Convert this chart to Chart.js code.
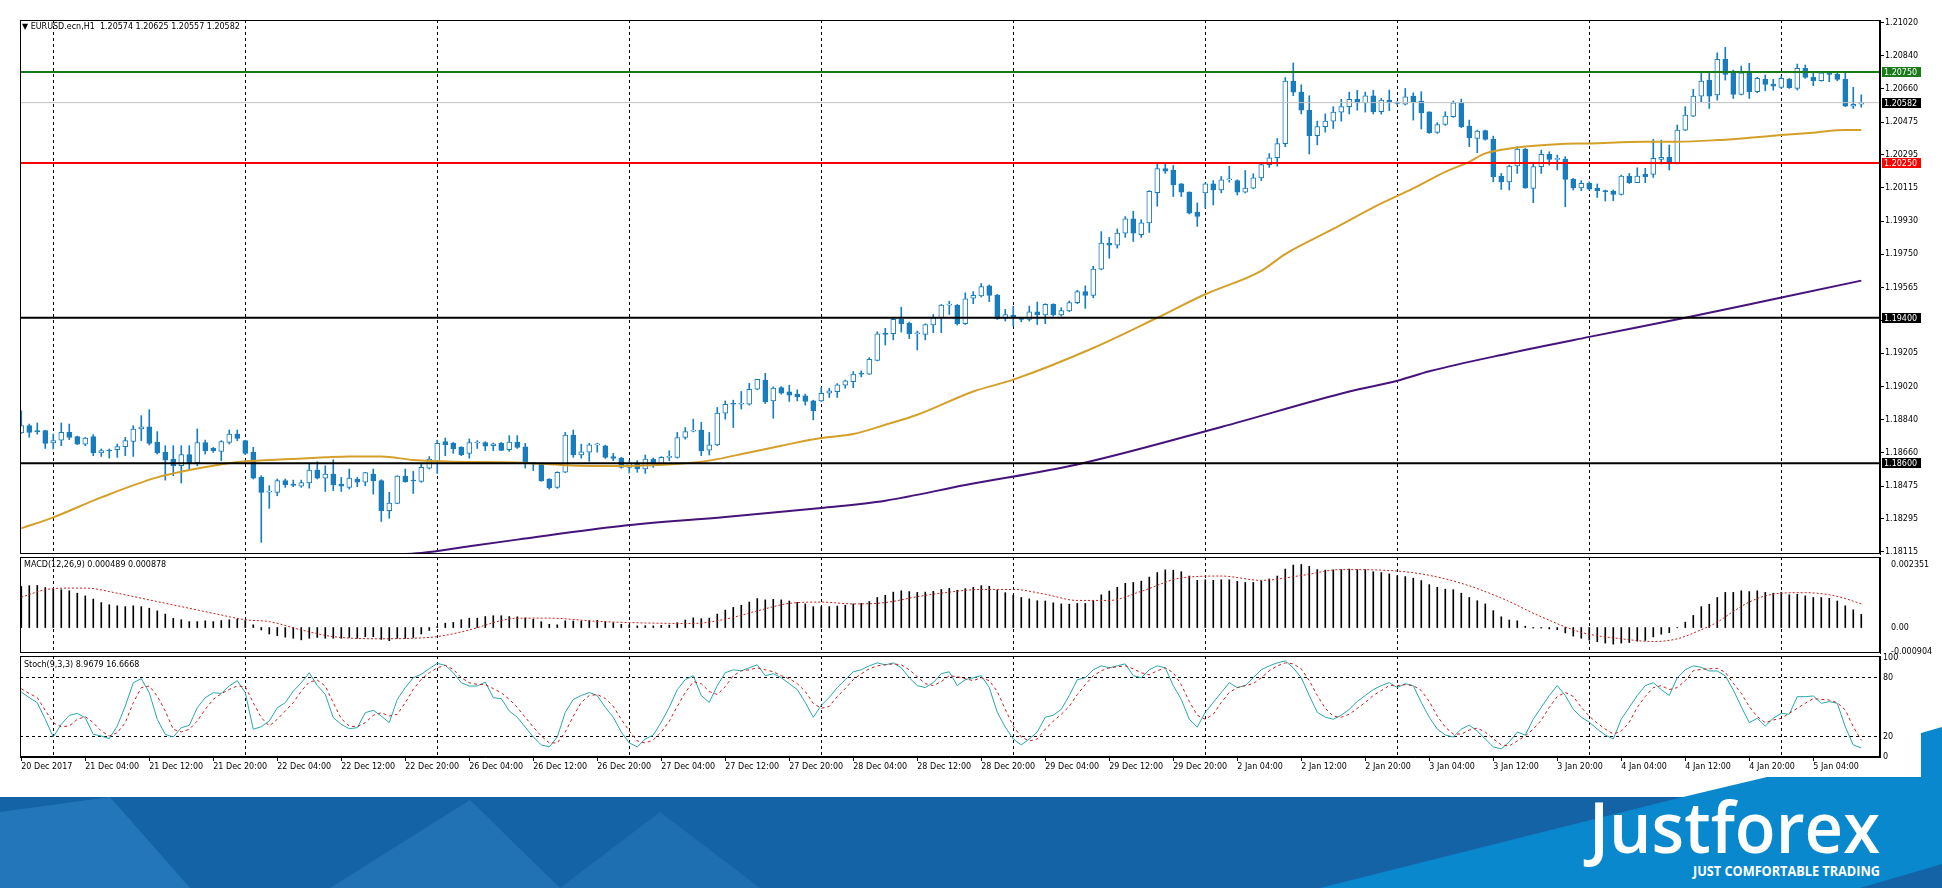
<!DOCTYPE html>
<html><head><meta charset="utf-8">
<script src="https://cdn.jsdelivr.net/npm/chart.js@4.4.1/dist/chart.umd.min.js"></script>
<style>
html,body{margin:0;padding:0;background:#fff;width:1942px;height:888px;overflow:hidden;}
canvas{position:absolute;left:0;top:0;}
#banner{position:absolute;left:0;top:0;}
.ttl{position:absolute;font-family:"DejaVu Sans";font-size:8px;color:#000;white-space:pre;line-height:10px;}
</style></head><body>
<svg id="banner" width="1942" height="888">
 <rect x="0" y="797" width="1942" height="91" fill="#0a88cd"/>
 <polygon points="0,797 1683,797 1320,888 0,888" fill="#1463a6"/>
 <polygon points="0,812 110,797 190,888 0,888" fill="#2f86c8" opacity="0.55"/>
 <polygon points="330,888 470,800 560,888" fill="#2f86c8" opacity="0.45"/>
 <polygon points="560,888 660,812 760,888" fill="#2f86c8" opacity="0.35"/>
 <polygon points="1683,797 1767,777 1921,777 1921,797" fill="#0a88cd"/>
 <polygon points="1921,733 1942,727 1942,797 1921,797" fill="#0a88cd"/>
 <polygon points="1860,888 1942,864 1942,888" fill="#1463a6"/>
 <text x="1589" y="853" font-family="Open Sans" font-weight="600" font-size="70" fill="#fff" textLength="291" lengthAdjust="spacingAndGlyphs">Justforex</text>
 <text x="1693" y="876" font-family="Open Sans" font-weight="700" font-size="15" fill="#fff" textLength="187" lengthAdjust="spacingAndGlyphs">JUST COMFORTABLE TRADING</text>
</svg>
<canvas id="cMain" width="1942" height="888"></canvas>
<canvas id="cMacd" width="1942" height="888"></canvas>
<canvas id="cStoch" width="1942" height="888"></canvas>
<div class="ttl" style="left:22px;top:22px;">▼ EURUSD.ecn,H1  1.20574 1.20625 1.20557 1.20582</div>
<div class="ttl" style="left:24px;top:560px;">MACD(12,26,9) 0.000489 0.000878</div>
<div class="ttl" style="left:24px;top:660px;">Stoch(9,3,3) 8.9679 16.6668</div>
<script>
// ---------- DATA ----------
const open = [1.18767,1.18807,1.18778,1.18780,1.18712,1.18728,1.18770,1.18747,1.18706,1.18747,
1.18657,1.18673,1.18675,1.18692,1.18721,1.18789,1.18801,1.18715,1.18660,1.18624,
1.18587,1.18648,1.18604,1.18714,1.18682,1.18666,1.18715,1.18761,1.18725,1.18660,
1.18523,1.18442,1.18441,1.18505,1.18486,1.18475,1.18492,1.18563,1.18519,1.18541,
1.18486,1.18468,1.18514,1.18496,1.18541,1.18505,1.18340,1.18380,1.18530,1.18505,
1.18501,1.18574,1.18611,1.18719,1.18710,1.18688,1.18655,1.18712,1.18714,1.18697,
1.18710,1.18675,1.18715,1.18691,1.18602,1.18600,1.18514,1.18468,1.18551,1.18755,
1.18647,1.18662,1.18702,1.18697,1.18637,1.18629,1.18578,1.18602,1.18569,1.18624,
1.18596,1.18633,1.18633,1.18742,1.18777,1.18783,1.18673,1.18702,1.18876,1.18929,
1.18925,1.18925,1.19007,1.19058,1.18943,1.19016,1.18993,1.18980,1.18971,1.18943,
1.18943,1.18985,1.18994,1.19029,1.19049,1.19093,1.19090,1.19166,1.19316,1.19312,
1.19391,1.19369,1.19312,1.19309,1.19360,1.19400,1.19469,1.19469,1.19367,1.19507,
1.19520,1.19575,1.19525,1.19396,1.19415,1.19393,1.19391,1.19433,1.19415,1.19474,
1.19415,1.19437,1.19483,1.19544,1.19523,1.19667,1.19810,1.19799,1.19865,1.19943,
1.19857,1.19921,1.20087,1.20219,1.20210,1.20136,1.20090,1.19980,1.20086,1.20136,
1.20103,1.20158,1.20154,1.20090,1.20112,1.20169,1.20241,1.20279,1.20357,1.20700,
1.20640,1.20540,1.20400,1.20450,1.20480,1.20530,1.20560,1.20600,1.20580,1.20620,
1.20532,1.20596,1.20583,1.20574,1.20618,1.20590,1.20532,1.20419,1.20462,1.20505,
1.20581,1.20453,1.20386,1.20428,1.20380,1.20179,1.20147,1.20234,1.20327,1.20111,
1.20230,1.20298,1.20270,1.20272,1.20160,1.20114,1.20138,1.20111,1.20098,1.20096,
1.20078,1.20179,1.20142,1.20188,1.20188,1.20270,1.20281,1.20248,1.20431,1.20508,
1.20618,1.20706,1.20624,1.20820,1.20748,1.20627,1.20748,1.20642,1.20710,1.20684,
1.20666,1.20710,1.20660,1.20770,1.20721,1.20702,1.20746,1.20739,1.20710,1.20563,
1.20574];
const high = [1.18889,1.18816,1.18822,1.18782,1.18761,1.18822,1.18816,1.18750,1.18743,1.18758,
1.18679,1.18679,1.18706,1.18743,1.18807,1.18862,1.18895,1.18774,1.18697,1.18697,
1.18697,1.18697,1.18789,1.18728,1.18688,1.18725,1.18783,1.18783,1.18727,1.18688,
1.18532,1.18477,1.18514,1.18514,1.18508,1.18508,1.18596,1.18609,1.18587,1.18620,
1.18523,1.18569,1.18523,1.18551,1.18569,1.18510,1.18441,1.18532,1.18569,1.18556,
1.18596,1.18637,1.18728,1.18739,1.18715,1.18692,1.18734,1.18725,1.18719,1.18712,
1.18715,1.18752,1.18752,1.18710,1.18605,1.18602,1.18516,1.18554,1.18770,1.18783,
1.18706,1.18710,1.18711,1.18700,1.18655,1.18633,1.18615,1.18615,1.18646,1.18629,
1.18637,1.18669,1.18770,1.18797,1.18843,1.18825,1.18770,1.18907,1.18943,1.18947,
1.18995,1.19040,1.19062,1.19095,1.19020,1.19022,1.19029,1.19004,1.18980,1.18947,
1.19016,1.19013,1.19038,1.19058,1.19104,1.19108,1.19181,1.19323,1.19342,1.19400,
1.19458,1.19376,1.19327,1.19367,1.19418,1.19473,1.19491,1.19473,1.19537,1.19544,
1.19588,1.19580,1.19529,1.19446,1.19464,1.19400,1.19464,1.19486,1.19477,1.19477,
1.19455,1.19492,1.19551,1.19575,1.19683,1.19873,1.19842,1.19888,1.19956,1.19985,
1.19939,1.20099,1.20250,1.20250,1.20237,1.20138,1.20092,1.20031,1.20141,1.20154,
1.20176,1.20232,1.20158,1.20209,1.20191,1.20250,1.20302,1.20385,1.20720,1.20800,
1.20680,1.20620,1.20480,1.20520,1.20560,1.20600,1.20640,1.20650,1.20640,1.20650,
1.20605,1.20651,1.20587,1.20660,1.20636,1.20642,1.20532,1.20472,1.20532,1.20591,
1.20602,1.20486,1.20431,1.20431,1.20398,1.20193,1.20239,1.20340,1.20331,1.20248,
1.20321,1.20312,1.20294,1.20285,1.20166,1.20153,1.20147,1.20135,1.20102,1.20102,
1.20184,1.20193,1.20224,1.20221,1.20380,1.20376,1.20349,1.20459,1.20560,1.20655,
1.20746,1.20746,1.20856,1.20886,1.20761,1.20783,1.20798,1.20721,1.20734,1.20710,
1.20728,1.20715,1.20794,1.20789,1.20743,1.20752,1.20752,1.20746,1.20746,1.20666,
1.20625];
const low = [1.18765,1.18743,1.18761,1.18682,1.18679,1.18697,1.18730,1.18703,1.18697,1.18642,
1.18638,1.18629,1.18633,1.18642,1.18638,1.18725,1.18701,1.18651,1.18508,1.18532,
1.18492,1.18560,1.18587,1.18651,1.18660,1.18615,1.18706,1.18725,1.18648,1.18514,
1.18166,1.18353,1.18422,1.18468,1.18472,1.18468,1.18464,1.18514,1.18446,1.18450,
1.18446,1.18459,1.18472,1.18477,1.18431,1.18281,1.18298,1.18378,1.18496,1.18435,
1.18496,1.18569,1.18545,1.18642,1.18655,1.18642,1.18629,1.18682,1.18670,1.18670,
1.18670,1.18666,1.18682,1.18574,1.18560,1.18501,1.18459,1.18463,1.18549,1.18633,
1.18629,1.18611,1.18662,1.18627,1.18615,1.18574,1.18547,1.18551,1.18545,1.18578,
1.18591,1.18615,1.18629,1.18733,1.18773,1.18642,1.18646,1.18697,1.18843,1.18797,
1.18898,1.18920,1.19004,1.18929,1.18848,1.18980,1.18940,1.18943,1.18920,1.18839,
1.18940,1.18962,1.18962,1.19013,1.19016,1.19075,1.19088,1.19163,1.19250,1.19278,
1.19321,1.19285,1.19223,1.19278,1.19318,1.19318,1.19418,1.19360,1.19363,1.19477,
1.19514,1.19488,1.19391,1.19382,1.19354,1.19378,1.19382,1.19363,1.19367,1.19409,
1.19409,1.19433,1.19477,1.19452,1.19510,1.19663,1.19727,1.19783,1.19842,1.19819,
1.19842,1.19869,1.20013,1.20193,1.20066,1.20066,1.19970,1.19902,1.20003,1.20020,
1.20086,1.20145,1.20075,1.20086,1.20108,1.20154,1.20226,1.20233,1.20340,1.20620,
1.20520,1.20300,1.20350,1.20420,1.20440,1.20480,1.20520,1.20540,1.20530,1.20520,
1.20519,1.20538,1.20569,1.20569,1.20486,1.20437,1.20413,1.20413,1.20457,1.20501,
1.20444,1.20340,1.20307,1.20376,1.20147,1.20105,1.20102,1.20193,1.20111,1.20032,
1.20193,1.20239,1.20212,1.20010,1.20102,1.20098,1.20102,1.20061,1.20041,1.20043,
1.20074,1.20138,1.20142,1.20142,1.20171,1.20245,1.20212,1.20245,1.20428,1.20505,
1.20587,1.20550,1.20596,1.20706,1.20605,1.20624,1.20605,1.20636,1.20647,1.20651,
1.20660,1.20660,1.20651,1.20715,1.20675,1.20700,1.20697,1.20702,1.20560,1.20550,
1.20557];
const close = [1.18807,1.18770,1.18774,1.18710,1.18725,1.18770,1.18743,1.18706,1.18739,1.18657,
1.18670,1.18668,1.18692,1.18725,1.18789,1.18801,1.18710,1.18657,1.18618,1.18587,
1.18648,1.18600,1.18714,1.18670,1.18670,1.18719,1.18761,1.18737,1.18655,1.18518,
1.18441,1.18444,1.18505,1.18483,1.18479,1.18494,1.18563,1.18518,1.18541,1.18483,
1.18474,1.18519,1.18496,1.18549,1.18505,1.18340,1.18382,1.18530,1.18499,1.18503,
1.18578,1.18624,1.18710,1.18703,1.18679,1.18648,1.18714,1.18715,1.18695,1.18708,
1.18671,1.18717,1.18688,1.18600,1.18600,1.18505,1.18465,1.18551,1.18755,1.18647,
1.18664,1.18702,1.18704,1.18633,1.18627,1.18578,1.18600,1.18569,1.18624,1.18600,
1.18633,1.18636,1.18742,1.18775,1.18779,1.18669,1.18702,1.18876,1.18925,1.18925,
1.18927,1.19007,1.19062,1.18938,1.19013,1.18985,1.18974,1.18965,1.18940,1.18889,
1.18985,1.18998,1.19031,1.19053,1.19090,1.19090,1.19172,1.19312,1.19309,1.19391,
1.19367,1.19312,1.19314,1.19363,1.19400,1.19469,1.19471,1.19367,1.19504,1.19523,
1.19571,1.19523,1.19394,1.19418,1.19400,1.19391,1.19433,1.19415,1.19474,1.19415,
1.19440,1.19483,1.19544,1.19523,1.19667,1.19810,1.19799,1.19865,1.19943,1.19865,
1.19921,1.20094,1.20219,1.20206,1.20130,1.20090,1.19974,1.19957,1.20136,1.20103,
1.20158,1.20160,1.20090,1.20112,1.20169,1.20241,1.20279,1.20357,1.20700,1.20640,
1.20540,1.20400,1.20450,1.20480,1.20530,1.20560,1.20600,1.20580,1.20620,1.20532,
1.20596,1.20583,1.20578,1.20614,1.20587,1.20527,1.20417,1.20462,1.20508,1.20581,
1.20450,1.20389,1.20426,1.20380,1.20175,1.20147,1.20234,1.20327,1.20114,1.20230,
1.20298,1.20270,1.20272,1.20160,1.20114,1.20138,1.20107,1.20098,1.20093,1.20078,
1.20179,1.20142,1.20179,1.20175,1.20276,1.20281,1.20248,1.20431,1.20514,1.20618,
1.20701,1.20618,1.20820,1.20737,1.20627,1.20746,1.20642,1.20715,1.20682,1.20673,
1.20715,1.20664,1.20770,1.20721,1.20702,1.20746,1.20737,1.20710,1.20563,1.20572,
1.20582];

const maFastIdx = [0,4,10,17,24,28,33,38,41,45,49,54,62,68,75,83,86,91,95,100,104,108,112,119,124,134,142,148,155,158,164,170,174,178,181,183,187,192,196,203,207,212,216,220,224,228,230];
const maFastVal = [1.18243,1.18303,1.18413,1.18523,1.18587,1.18611,1.18622,1.18633,1.18638,1.18638,1.18618,1.18609,1.18605,1.18590,1.18585,1.18600,1.18615,1.18660,1.18697,1.18739,1.18761,1.18812,1.18867,1.18995,1.19060,1.19234,1.19400,1.19529,1.19658,1.19750,1.19888,1.20028,1.20111,1.20202,1.20257,1.20303,1.20336,1.20354,1.20358,1.20367,1.20367,1.20376,1.20389,1.20404,1.20417,1.20431,1.20431];
const maSlowIdx = [40,45,50,56,62,75,88,100,108,118,132,150,166,172,176,186,196,208,219,230];
const maSlowVal = [1.18080,1.18098,1.18108,1.18145,1.18181,1.18256,1.18305,1.18355,1.18395,1.18481,1.18594,1.18800,1.18995,1.19054,1.19106,1.19205,1.19295,1.19400,1.19502,1.19604];

const levelVals   = [1.20750, 1.20582, 1.20250, 1.19400, 1.18600];
const priceTicks  = [1.21020,1.20840,1.20660,1.20475,1.20295,1.20115,1.19930,1.19750,1.19565,1.19385,1.19205,1.19020,1.18840,1.18660,1.18475,1.18295,1.18115];

const macdHist = [0.00153,0.00156,0.00157,0.00149,0.00143,0.00141,0.00137,0.00128,0.00118,0.00106,
0.00093,0.00085,0.00081,0.00078,0.00081,0.00078,0.00072,0.00062,0.00050,0.00034,
0.00029,0.00022,0.00022,0.00025,0.00022,0.00026,0.00029,0.00031,0.00026,0.00010,
-0.00009,-0.00024,-0.00030,-0.00036,-0.00040,-0.00046,-0.00040,-0.00037,-0.00040,-0.00040,
-0.00040,-0.00037,-0.00040,-0.00034,-0.00034,-0.00044,-0.00049,-0.00040,-0.00040,-0.00037,
-0.00024,-0.00011,0.00004,0.00016,0.00019,0.00029,0.00035,0.00035,0.00041,0.00044,
0.00044,0.00041,0.00040,0.00036,0.00031,0.00022,0.00012,0.00010,0.00025,0.00024,
0.00024,0.00026,0.00027,0.00022,0.00018,0.00012,0.00010,0.00006,0.00007,0.00006,
0.00008,0.00009,0.00018,0.00028,0.00036,0.00033,0.00035,0.00050,0.00065,0.00075,
0.00083,0.00095,0.00108,0.00103,0.00105,0.00103,0.00099,0.00094,0.00088,0.00078,
0.00078,0.00078,0.00080,0.00083,0.00088,0.00090,0.00097,0.00112,0.00120,0.00132,
0.00137,0.00134,0.00131,0.00132,0.00135,0.00142,0.00146,0.00139,0.00145,0.00150,
0.00156,0.00154,0.00140,0.00130,0.00121,0.00112,0.00107,0.00100,0.00099,0.00092,
0.00088,0.00087,0.00090,0.00090,0.00100,0.00122,0.00136,0.00150,0.00165,0.00168,
0.00173,0.00188,0.00205,0.00215,0.00214,0.00208,0.00192,0.00176,0.00178,0.00176,
0.00178,0.00178,0.00172,0.00168,0.00168,0.00174,0.00181,0.00192,0.00218,0.00233,
0.00235,0.00228,0.00216,0.00214,0.00215,0.00216,0.00218,0.00216,0.00216,0.00208,
0.00205,0.00200,0.00193,0.00190,0.00184,0.00175,0.00160,0.00150,0.00143,0.00141,
0.00128,0.00112,0.00100,0.00088,0.00063,0.00040,0.00028,0.00025,0.00005,-0.00002,
-0.00002,-0.00005,-0.00008,-0.00020,-0.00032,-0.00040,-0.00047,-0.00053,-0.00058,-0.00062,
-0.00058,-0.00056,-0.00051,-0.00048,-0.00035,-0.00025,-0.00019,-0.00001,0.00020,0.00045,
0.00078,0.00087,0.00112,0.00131,0.00131,0.00137,0.00134,0.00137,0.00131,0.00128,
0.00131,0.00122,0.00124,0.00118,0.00112,0.00112,0.00109,0.00099,0.00081,0.00066,
0.00049];
const macdSigIdx = [0,3,6,8,12,16,20,24,28,31,35,39,45,49,52,56,60,62,66,72,78,84,88,92,96,100,104,108,112,116,120,124,128,132,136,140,145,150,155,160,165,170,175,180,185,190,195,200,204,207,210,212,214,216,218,220,223,226,228,230];
const macdSigVal = [0.00113,0.00141,0.00147,0.00147,0.00128,0.00103,0.00078,0.00053,0.00029,0.00022,
-0.00009,-0.00034,-0.00042,-0.00040,-0.00034,-0.00009,0.00026,0.00035,0.00035,0.00023,
0.00017,0.00015,0.00031,0.00062,0.00090,0.00095,0.00088,0.00093,0.00115,0.00132,
0.00142,0.00142,0.00124,0.00101,0.00101,0.00135,0.00185,0.00192,0.00176,0.00194,
0.00216,0.00214,0.00200,0.00165,0.00110,0.00040,-0.00018,-0.00042,-0.00052,-0.00042,
-0.00008,0.00020,0.00060,0.00095,0.00118,0.00128,0.00130,0.00122,0.00108,0.00088];
const macdTicks = [0.002351, 0, -0.000904];

const stochK = [65.5,59.8,54.7,37.9,20.0,32.8,41.9,43.9,39.5,22.7,21.0,18.3,31.1,51.3,74.9,79.0,64.8,37.9,22.7,20.0,
29.4,31.8,49.7,59.8,64.8,64.1,71.6,77.0,64.8,27.8,30.4,36.2,49.7,54.7,66.5,74.9,85.0,72.2,63.1,39.5,
32.8,28.4,29.4,44.6,47.0,41.2,34.5,58.1,69.9,80.0,83.4,89.1,94.5,92.5,85.0,74.9,71.6,71.6,75.6,59.8,
58.8,46.3,40,30,20,12,10,20,45,58,62,65,62,50,40,25,14,10,18,22,
35,50,68,78,82,62,55,72,85,88,87,90,93,82,84,80,74,68,55,40,
52,60,70,78,86,88,92,95,93,95,90,80,72,70,75,84,86,72,78,80,
82,70,45,30,18,12,18,25,40,42,48,62,78,80,88,92,90,92,94,82,
80,88,92,90,72,58,38,30,45,55,65,75,70,72,80,88,92,95,97,90,
80,62,45,40,38,42,48,56,62,68,72,75,70,74,72,55,40,28,22,20,
28,32,26,18,10,8,15,25,22,38,50,62,72,62,48,40,35,28,22,18,
38,50,62,72,75,68,62,80,88,92,90.5,86.8,86.8,82,67.6,50.7,34.5,38.9,31.1,38.9,
44.0,43.0,60.8,60.8,61.5,54.1,55.8,54.1,30.4,11.9,8.97];
const stochD = [68.9,64.0,59.8,47.0,34.5,30.4,31.1,37.9,40.6,34.5,26.0,21.0,24.4,34.5,54.7,69.9,71.6,61.4,46.3,27.8,
25.1,27.8,36.2,48.0,58.1,63.8,68.2,71.6,70.9,54.7,39.5,31.1,37.9,46.3,54.7,66.5,75.6,77.6,71.6,54.7,
38.5,31.1,30.4,34.5,41.9,44.6,41.2,42.9,54.7,68.2,78.3,85.0,90.1,92.5,88.4,80.0,74.9,73.2,73.2,68.9,
64.8,58.1,50,40,30,21,14,14,25,41,55,62,63,59,51,38,26,16,14,17,
25,36,51,65,76,74,66,63,71,82,87,88,90,88,86,82,79,74,66,54,
49,51,61,69,78,84,89,92,93,94,93,88,81,74,72,76,82,81,79,77,
80,77,66,48,31,20,16,18,28,36,43,51,63,73,82,87,90,91,92,89,
85,83,87,90,85,73,56,42,38,43,55,65,70,72,74,80,87,92,95,94,
89,77,62,49,41,40,43,49,55,62,67,72,72,73,72,67,56,41,30,23,
23,27,29,25,18,12,11,16,21,28,37,50,61,65,61,50,41,34,28,23,
26,35,50,61,70,72,68,70,77,87,88.5,89,89.5,85.5,74.4,64.2,50.7,40.6,34.5,37.2,
38.9,44.0,49.0,54.1,58.8,58.1,57.4,54.7,47.4,30.4,16.67];
const stochTicks = [100, 80, 20, 0];
const stochLevels = [80, 20];

const timeLabels = ["20 Dec 2017","21 Dec 04:00","21 Dec 12:00","21 Dec 20:00","22 Dec 04:00","22 Dec 12:00","22 Dec 20:00","26 Dec 04:00","26 Dec 12:00","26 Dec 20:00","27 Dec 04:00","27 Dec 12:00","27 Dec 20:00","28 Dec 04:00","28 Dec 12:00","28 Dec 20:00","29 Dec 04:00","29 Dec 12:00","29 Dec 20:00","2 Jan 04:00","2 Jan 12:00","2 Jan 20:00","3 Jan 04:00","3 Jan 12:00","3 Jan 20:00","4 Jan 04:00","4 Jan 12:00","4 Jan 20:00","5 Jan 04:00"];
const labelStep = 8;          // bars between time labels
const dayStartIdx = [4,28,52,76,100,124,148,172,196,220];

// ---------- STYLE ----------
const BLUE = '#1b7cba';
const X_MIN = -0.16, X_MAX = 232.34;
const FONT = {family:'DejaVu Sans', size:8};
const levelColors = ['#1a7a1a', '#c0c0c0', '#ff0000', '#000000', '#000000'];
const levelWidths = [2, 1, 2, 2, 2];
const levelBox = ['#1a7a1a', '#000000', '#ff0000', '#000000', '#000000'];
Chart.defaults.font.family = 'DejaVu Sans';
Chart.defaults.font.size = 8;
Chart.defaults.color = '#000';

const frame = {id:'frame', afterDraw(c){ const a=c.chartArea, g=c.ctx; g.save(); g.strokeStyle='#000'; g.lineWidth=1;
  g.strokeRect(a.left+0.5, a.top+0.5, a.width-1, a.height-1); g.restore(); }};

function dayGridX(){ return { type:'linear', min:X_MIN, max:X_MAX, offset:false,
  afterBuildTicks: s => { s.ticks = dayStartIdx.map(v=>({value:v})); },
  ticks:{display:false}, grid:{offset:false, color:'#000', lineWidth:1, drawTicks:false}, border:{display:false, dash:[3,3]} }; }

function base(padTop, padBottom){ return { responsive:false, animation:false, devicePixelRatio:1,
  layout:{padding:{left:20, right:0, top:padTop, bottom:padBottom}},
  plugins:{legend:{display:false}, tooltip:{enabled:false}}, events:[] }; }

// ---------- MAIN ----------
const levelLabels = {id:'levelLabels', afterDraw(c){ const s=c.scales.y, g=c.ctx; g.save();
  g.font = '8px "DejaVu Sans"'; g.textBaseline='middle'; g.textAlign='left';
  levelVals.forEach((v,k)=>{ const y=Math.round(s.getPixelForValue(v)); g.fillStyle=levelBox[k]; g.fillRect(1882, y-5, 39, 10);
    g.fillStyle='#fff'; g.fillText(v.toFixed(5), 1884, y+0.5); });
  g.restore(); }};

const idx = open.map((_,i)=>i);
const mainDatasets = [
  {type:'bar', data: idx.map(i=>({x:i, y:[low[i], high[i]]})), barThickness:1, backgroundColor:BLUE, borderWidth:0, grouped:false, order:5, minBarLength:1},
  {type:'bar', data: idx.map(i=>({x:i, y:[open[i], close[i]]})), barThickness:5, grouped:false, order:4, minBarLength:1,
   backgroundColor: c => (close[c.dataIndex] >= open[c.dataIndex] ? '#ffffff' : BLUE), borderColor:BLUE, borderWidth:1, borderSkipped:false},
  {type:'line', data: maFastIdx.map((x,k)=>({x, y:maFastVal[k]})), borderColor:'#d4a02a', borderWidth:2, pointRadius:0, cubicInterpolationMode:'monotone', order:3},
  {type:'line', data: maSlowIdx.map((x,k)=>({x, y:maSlowVal[k]})), borderColor:'#45137a', borderWidth:2, pointRadius:0, cubicInterpolationMode:'monotone', order:3},
];
levelVals.forEach((v,k)=> mainDatasets.push({type:'line', data:[{x:X_MIN,y:v},{x:X_MAX,y:v}], borderColor:levelColors[k], borderWidth:levelWidths[k], pointRadius:0, order:k===1?2:1}));

new Chart(document.getElementById('cMain'), {
  type:'bar', data:{datasets: mainDatasets},
  options: Object.assign(base(20, 888-554), { scales:{
    x: dayGridX(),
    y: { position:'right', min:1.18102, max:1.21036,
      afterBuildTicks: s => { s.ticks = priceTicks.map(v=>({value:v})); },
      afterFit: s => { s.width = 62; },
      grid:{drawOnChartArea:false, drawTicks:true, tickLength:4, color:'#000'},
      border:{display:true, color:'#000'},
      ticks:{autoSkip:false, padding:1, font:FONT, color:'#000', callback: v => Number(v).toFixed(5)} } } }),
  plugins:[frame, levelLabels]
});

// ---------- MACD ----------
new Chart(document.getElementById('cMacd'), {
  type:'bar', data:{datasets:[
    {type:'bar', data: macdHist.map((v,i)=>({x:i, y:v})), barThickness:1, backgroundColor:'#000', borderWidth:0, grouped:false, order:2},
    {type:'line', data: macdSigIdx.map((x,k)=>({x, y:macdSigVal[k]})), borderColor:'#c81e1e', borderWidth:1, borderDash:[2,2], pointRadius:0, cubicInterpolationMode:'monotone', order:1}
  ]},
  options: Object.assign(base(557, 888-653), { scales:{
    x: dayGridX(),
    y: { position:'right', min:-0.00095, max:0.00263,
      afterBuildTicks: s => { s.ticks = macdTicks.map(v=>({value:v})); },
      afterFit: s => { s.width = 62; },
      grid:{display:false}, border:{display:true, color:'#000'},
      ticks:{autoSkip:false, padding:3, font:FONT, color:'#000', callback: v => (v===0 ? '0.00' : Number(v).toFixed(6))} } } }),
  plugins:[frame]
});

// ---------- STOCH ----------
new Chart(document.getElementById('cStoch'), {
  type:'line', data:{datasets:[
    {data: stochK.map((v,i)=>({x:i, y:v})), borderColor:'#2aa8a8', borderWidth:1, pointRadius:0, order:2},
    {data: stochD.map((v,i)=>({x:i, y:v})), borderColor:'#c81e1e', borderWidth:1, borderDash:[3,3], pointRadius:0, order:1}
  ]},
  options: Object.assign(base(656, 888-757-20), { scales:{
    x: dayGridX(),
    xl: { type:'linear', position:'bottom', min:X_MIN, max:X_MAX, offset:false,
      afterBuildTicks: s => { s.ticks = timeLabels.map((t,k)=>({value:k*labelStep})); },
      afterFit: s => { s.height = 20; },
      grid:{offset:false, drawOnChartArea:false, drawTicks:true, tickLength:4, color:'#000'},
      border:{display:true, color:'#000'},
      ticks:{autoSkip:false, maxRotation:0, minRotation:0, align:'start', padding:1, font:FONT, color:'#000', callback:(v,k)=>timeLabels[k]} },
    y: { position:'right', min:-0.24, max:101.96,
      afterBuildTicks: s => { s.ticks = stochTicks.map(v=>({value:v})); },
      afterFit: s => { s.width = 62; },
      grid:{drawTicks:false, color: c => (c.tick && stochLevels.includes(c.tick.value)) ? '#000' : 'rgba(0,0,0,0)'},
      border:{display:true, color:'#000', dash:[3,3]},
      ticks:{autoSkip:false, padding:3, font:FONT, color:'#000', callback: v => String(v)} } } }),
  plugins:[frame]
});
</script>
</body></html>
